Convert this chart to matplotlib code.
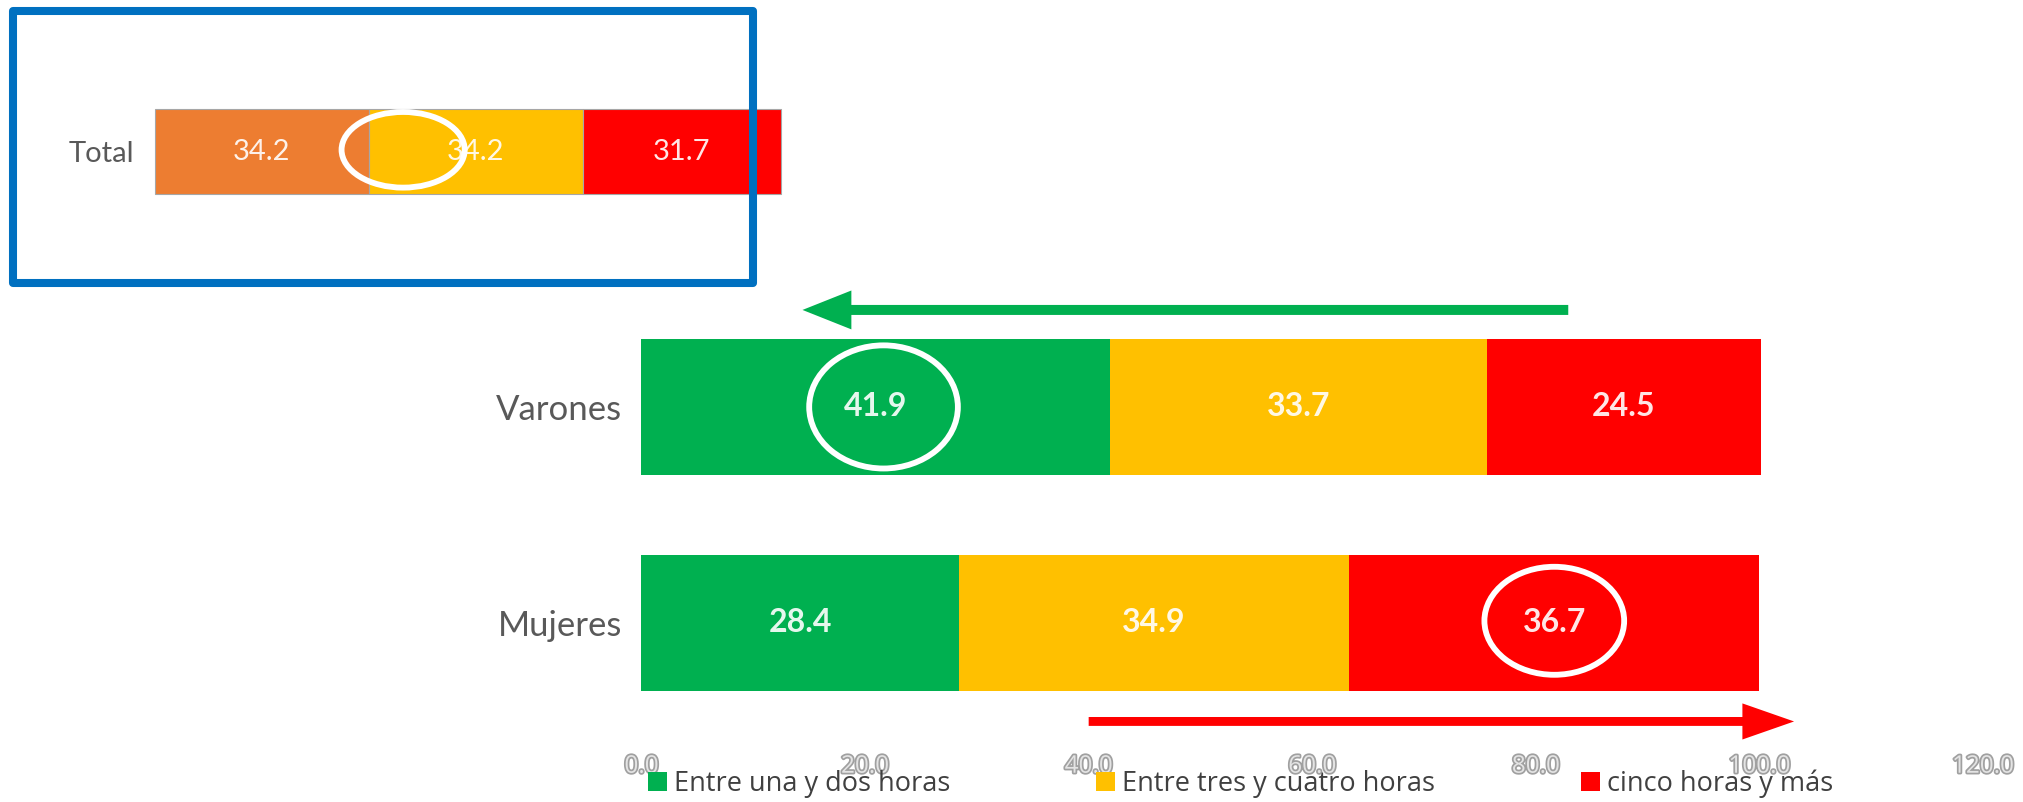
import matplotlib
matplotlib.use('Agg')
import matplotlib.pyplot as plt
from matplotlib.patches import Ellipse, Rectangle, Patch
import matplotlib.patheffects as pe
import numpy as np

# ---------------- data ----------------
categories = ['Mujeres', 'Varones']
series_names = ['Entre una y dos horas', 'Entre tres y cuatro horas', 'cinco horas y más']
una_dos = [28.4, 41.9]
tres_cuatro = [34.9, 33.7]
cinco_mas = [36.7, 24.5]
total_label = ['Total']
total_values = [34.2, 34.2, 31.7]
xticks = [0, 20, 40, 60, 80, 100, 120]
xtick_labels = ['0.0', '20.0', '40.0', '60.0', '80.0', '100.0', '120.0']

colors = ['#00B050', '#FFC000', '#FF0000']
total_colors = ['#ED7D31', '#FFC000', '#FF0000']

plt.rcParams['font.family'] = ['Lato', 'DejaVu Sans']

W, H = 2024, 802
fig = plt.figure(figsize=(W / 100, H / 100), dpi=100)


def fx(px):
    return px / W


def fy(py):
    return 1 - py / H


# ---------------- main chart ----------------
ax = fig.add_axes([fx(641.5), fy(745), fx(1983) - fx(641.5), fy(300) - fy(745)])
ypos = np.arange(len(categories))
left = np.zeros(len(categories))
series = [una_dos, tres_cuatro, cinco_mas]
for vals, col in zip(series, colors):
    bars = ax.barh(ypos, vals, left=left, height=0.63, color=col, edgecolor='none')
    for b, v in zip(bars, vals):
        ax.text(b.get_x() + b.get_width() / 2, b.get_y() + b.get_height() / 2,
                f'{v:.1f}', ha='center', va='center', color='white', alpha=0.9,
                fontsize=23, fontweight='bold')
    left += np.array(vals)

ax.set_xlim(0, 120)
ax.set_ylim(-0.565, 1.495)
ax.set_xticks(xticks)
ax.set_xticklabels(xtick_labels)
ax.set_yticks(ypos)
ax.set_yticklabels(categories)
for s in ax.spines.values():
    s.set_visible(False)
ax.tick_params(axis='y', length=0, pad=14, labelsize=25, labelcolor='#595959')
ax.tick_params(axis='x', length=0, pad=7, labelsize=17.5, labelcolor='#e4e4e4')
for lbl in ax.get_xticklabels():
    lbl.set_fontfamily(['Open Sans', 'DejaVu Sans'])
    lbl.set_path_effects([pe.withStroke(linewidth=2.5, foreground='#a0a0a0')])

# highlight ellipses
v_idx = categories.index('Varones')
m_idx = categories.index('Mujeres')
ax.add_patch(Ellipse((una_dos[v_idx] / 2 + 0.7, v_idx), 13.3, 0.57, fill=False,
                     edgecolor='white', lw=4.2, zorder=5))
ax.add_patch(Ellipse((una_dos[m_idx] + tres_cuatro[m_idx] + cinco_mas[m_idx] / 2, m_idx + 0.01),
                     12.5, 0.50, fill=False, edgecolor='white', lw=4.2, zorder=5))

# arrows
ax.annotate('', xy=(14.4, 1.449), xytext=(82.9, 1.449),
            arrowprops=dict(arrowstyle='simple,head_length=0.88,head_width=0.7,tail_width=0.18',
                            mutation_scale=40, color='#00B050', lw=0, shrinkA=0, shrinkB=0),
            annotation_clip=False)
ax.annotate('', xy=(103.1, -0.456), xytext=(40.0, -0.456),
            arrowprops=dict(arrowstyle='simple,head_length=0.93,head_width=0.65,tail_width=0.16',
                            mutation_scale=40, color='#FF0000', lw=0, shrinkA=0, shrinkB=0),
            annotation_clip=False)

# ---------------- Total inset ----------------
ax2 = fig.add_axes([fx(155), fy(194), fx(780) - fx(155), fy(109) - fy(194)])
tleft = 0.0
for v, col in zip(total_values, total_colors):
    ax2.barh([0], [v], left=tleft, height=1.0, color=col, edgecolor='#a6a6a6',
             linewidth=0.8, clip_on=False)
    ax2.text(tleft + v / 2, 0, f'{v:.1f}', ha='center', va='center', color='white',
             alpha=0.9, fontsize=21)
    tleft += v
ax2.set_xlim(0, 100)
ax2.set_ylim(-0.5, 0.5)
ax2.set_yticks([0])
ax2.set_yticklabels(total_label)
ax2.set_xticks([])
for s in ax2.spines.values():
    s.set_visible(False)
ax2.tick_params(axis='y', length=0, pad=15, labelsize=21, labelcolor='#595959')
ax2.add_patch(Ellipse((total_values[0] + 5.5, 0.02), 19.7, 0.89, fill=False,
                      edgecolor='white', lw=4.2, zorder=5, clip_on=False))

# blue frame
fig.add_artist(Rectangle((fx(13), fy(283)), fx(753) - fx(13), fy(11) - fy(283),
                         transform=fig.transFigure, fill=False, edgecolor='#0070C0',
                         lw=5.8, zorder=10, joinstyle='round'))

# legend
handles = [Patch(facecolor=c, edgecolor='none') for c in colors]
fig.legend(handles, series_names, loc='center left', bbox_to_anchor=(fx(648), fy(784)),
           ncol=3, frameon=False, handlelength=0.7, handleheight=0.7,
           handletextpad=0.25, columnspacing=5.4, borderpad=0, borderaxespad=0,
           labelcolor='#404040', prop={'family': ['Open Sans', 'DejaVu Sans'], 'size': 19.5})

fig.savefig('out.png', dpi=100)
